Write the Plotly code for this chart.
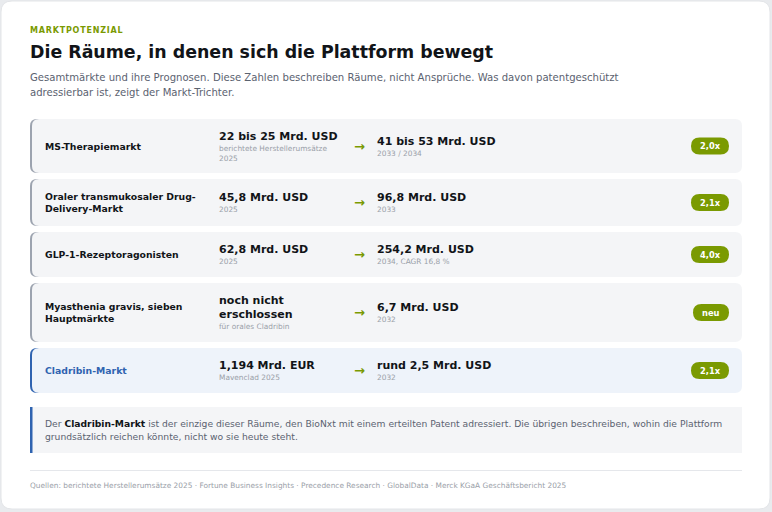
import plotly.graph_objects as go

# Daten
maerkte = ["MS-Therapiemarkt", "Oraler transmukosaler Drug-\nDelivery-Markt",
           "GLP-1-Rezeptoragonisten", "Myasthenia gravis, sieben\nHauptmärkte", "Cladribin-Markt"]
basis_werte = ["22 bis 25 Mrd. USD", "45,8 Mrd. USD", "62,8 Mrd. USD",
               "noch nicht\nerschlossen", "1,194 Mrd. EUR"]
basis_notizen = ["berichtete Herstellerumsätze\n2025", "2025", "2025",
                 "für orales Cladribin", "Mavenclad 2025"]
prognose_werte = ["41 bis 53 Mrd. USD", "96,8 Mrd. USD", "254,2 Mrd. USD",
                  "6,7 Mrd. USD", "rund 2,5 Mrd. USD"]
prognose_notizen = ["2033 / 2034", "2033", "2034, CAGR 16,8 %", "2032", "2032"]
faktoren = ["2,0x", "2,1x", "4,0x", "neu", "2,1x"]
hervorgehoben = "Cladribin-Markt"

W, H = 772, 512
FONT = "DejaVu Sans"
GREEN = "#7a9a01"
DARK = "#111418"
GRAY = "#5b6270"
LIGHT = "#9aa0a8"
BLUE = "#2f63b0"
ROW_BG = "#f4f5f7"
ROW_BG_HI = "#eef3fa"

fig = go.Figure()
shapes = []
annotations = []


def rrect(x0, y0, x1, y1, r, fill, line_color=None, line_width=0):
    path = (f"M{x0+r},{y0} L{x1-r},{y0} Q{x1},{y0} {x1},{y0+r} L{x1},{y1-r} "
            f"Q{x1},{y1} {x1-r},{y1} L{x0+r},{y1} Q{x0},{y1} {x0},{y1-r} "
            f"L{x0},{y0+r} Q{x0},{y0} {x0+r},{y0} Z")
    shapes.append(dict(type="path", path=path, xref="x", yref="y", fillcolor=fill,
                       line=dict(color=line_color or fill, width=line_width), layer="below"))


def text(x, y, s, size, color, bold=False, anchor="left"):
    annotations.append(dict(x=x - 2 if anchor == "left" else x, y=y, xref="x", yref="y",
                            text=f"<b>{s}</b>" if bold else s,
                            showarrow=False, xanchor=anchor, yanchor="middle",
                            font=dict(family=FONT, size=size, color=color)))


# Hintergrund und Karte
shapes.append(dict(type="rect", x0=0, y0=0, x1=W, y1=H, xref="x", yref="y",
                   fillcolor="#e9ebee", line=dict(width=0), layer="below"))
rrect(1, 1, 770, 509, 11, "#ffffff", "#e3e5e8", 1)

# Kopf
text(30, 30, "\u200a".join("MARKTPOTENZIAL"), 8, GREEN, bold=True)
text(30, 52, "Die Räume, in denen sich die Plattform bewegt", 17.4, DARK, bold=True)
text(30, 77, "Gesamtmärkte und ihre Prognosen. Diese Zahlen beschreiben Räume, nicht Ansprüche. "
     "Was davon patentgeschützt", 10.1, GRAY)
text(30, 92, "adressierbar ist, zeigt der Markt-Trichter.", 10.1, GRAY)

# Zeilen
row_h = [54, 47, 45, 59, 45]
y = 119
for i, markt in enumerate(maerkte):
    y0, y1 = y, y + row_h[i]
    c = (y0 + y1) / 2
    hi = markt == hervorgehoben
    edge = BLUE if hi else "#9ca3af"
    rrect(30, y0, 50, y1, 7, edge)
    rrect(32, y0, 742, y1, 7, ROW_BG_HI if hi else ROW_BG)

    lines = markt.split("\n")
    for k, ln in enumerate(lines):
        text(45, c + (k - (len(lines) - 1) / 2) * 12.5, ln, 9.3, BLUE if hi else DARK, bold=True)

    for x, wert, notiz in [(219, basis_werte[i], basis_notizen[i]),
                           (377, prognose_werte[i], prognose_notizen[i])]:
        wl, nl = wert.split("\n"), notiz.split("\n")
        top = c - (len(wl) * 14 + len(nl) * 10) / 2
        for k, ln in enumerate(wl):
            text(x, top + 7 + 14 * k, ln, 11, DARK, bold=True)
        for k, ln in enumerate(nl):
            text(x, top + len(wl) * 14 + 5 + 10 * k, ln, 7.4, LIGHT)

    text(359, c, "→", 13, GREEN, bold=True, anchor="center")

    bw = 36 if faktoren[i] == "neu" else 38
    rrect(729 - bw, c - 8.5, 729, c + 8.5, 8.5, GREEN)
    text(729 - bw / 2, c, faktoren[i], 8.3, "#ffffff", bold=True, anchor="center")
    y = y1 + 6

# Hinweis
shapes.append(dict(type="rect", x0=30, y0=407, x1=742, y1=453, xref="x", yref="y",
                   fillcolor=ROW_BG, line=dict(width=0), layer="below"))
shapes.append(dict(type="rect", x0=30, y0=407, x1=32.5, y1=453, xref="x", yref="y",
                   fillcolor=BLUE, line=dict(width=0), layer="below"))
text(45, 423, f"Der <b style='color:{DARK}'>Cladribin-Markt</b> ist der einzige dieser Räume, "
     "den BioNxt mit einem erteilten Patent adressiert. Die übrigen beschreiben, wohin die Plattform",
     9.2, GRAY)
text(45, 436, "grundsätzlich reichen könnte, nicht wo sie heute steht.", 9.2, GRAY)

# Fußzeile
shapes.append(dict(type="line", x0=30, y0=470.5, x1=742, y1=470.5, xref="x", yref="y",
                   line=dict(color="#e5e7eb", width=1)))
text(30, 485, "Quellen: berichtete Herstellerumsätze 2025 · Fortune Business Insights · "
     "Precedence Research · GlobalData · Merck KGaA Geschäftsbericht 2025", 7.4, LIGHT)

fig.update_layout(
    width=W, height=H, margin=dict(l=0, r=0, t=0, b=0),
    paper_bgcolor="#e9ebee", plot_bgcolor="#e9ebee",
    xaxis=dict(range=[0, W], visible=False, fixedrange=True),
    yaxis=dict(range=[H, 0], visible=False, fixedrange=True),
    shapes=shapes, annotations=annotations, showlegend=False,
)

fig.write_html("out.html", config={"displayModeBar": False},
               post_script="document.body.style.margin='0';document.body.style.overflow='hidden';")
